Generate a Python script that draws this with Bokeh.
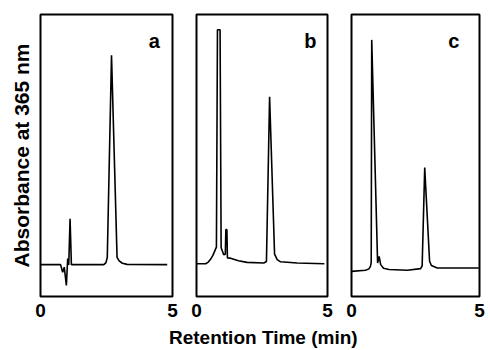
from bokeh.plotting import figure
from bokeh.models import Range1d, FixedTicker, Label
from bokeh.layouts import row, column
from bokeh.core.properties import value
from bokeh.embed import file_html
from bokeh.resources import INLINE

# ---- data (time in min, absorbance in arbitrary units 0-100) ----
a_time = [0.00, 0.76, 0.84, 0.90, 0.98, 1.03, 1.07, 1.12, 1.17, 2.40, 2.48, 2.53, 2.69, 2.90, 2.98, 3.10, 3.28, 4.80]
a_abs = [11.3, 11.3, 8.6, 10.4, 3.9, 13.5, 11.2, 27.6, 11.3, 11.3, 12.0, 13.9, 85.5, 13.9, 12.6, 11.8, 11.4, 11.3]

b_time = [0.00, 0.35, 0.45, 0.53, 0.62, 0.69, 0.76, 0.80, 0.90, 0.94, 1.04, 1.10, 1.12, 1.16, 1.18,
          1.30, 1.60, 1.93, 2.57, 2.67, 2.79, 2.98, 3.08, 3.21, 3.84, 4.88]
b_abs = [11.6, 11.6, 12.2, 13.1, 14.5, 16.0, 17.5, 94.6, 94.6, 17.3, 14.8, 15.0, 23.7, 23.7, 13.7,
         13.6, 12.7, 12.1, 11.9, 12.4, 70.8, 15.0, 13.1, 12.3, 11.9, 11.6]

c_time = [0.00, 0.55, 0.68, 0.74, 0.77, 0.79, 1.02, 1.08, 1.14, 1.25, 1.47, 2.18, 2.70, 2.76, 2.86,
          3.05, 3.12, 3.35, 4.97]
c_abs = [8.9, 9.3, 9.8, 10.7, 12.0, 91.0, 11.9, 14.2, 11.3, 10.0, 9.6, 9.3, 9.9, 10.9, 45.7,
         12.5, 11.0, 10.1, 10.1]

panel_letters = ["a", "b", "c"]
x_ticks = [0, 5]
y_title = "Absorbance at 365 nm"
x_title = "Retention Time (min)"

FONT = "Liberation Sans"
FRAME_H = 282
TOP = 14
BOTTOM = 30


def make_panel(t, v, letter, frame_w, left, right, letter_x):
    p = figure(frame_width=frame_w, frame_height=FRAME_H,
               x_range=Range1d(0, 5), y_range=Range1d(0, 100),
               output_backend="svg", toolbar_location=None,
               min_border_left=left, min_border_right=right,
               min_border_top=TOP, min_border_bottom=BOTTOM)
    p.grid.visible = False
    p.outline_line_color = "black"
    p.outline_line_width = 2
    p.background_fill_color = "white"
    p.border_fill_color = "white"

    p.xaxis.ticker = FixedTicker(ticks=x_ticks)
    p.xaxis.axis_line_color = None
    p.xaxis.major_tick_line_color = None
    p.xaxis.minor_tick_line_color = None
    p.xaxis.major_tick_out = 0
    p.xaxis.major_tick_in = 0
    p.xaxis.major_label_standoff = 7
    p.xaxis.major_label_text_font = FONT
    p.xaxis.major_label_text_font_style = "bold"
    p.xaxis.major_label_text_font_size = "19px"
    p.xaxis.major_label_text_color = "black"

    p.line(t, v, line_color="black", line_width=1.6)

    p.add_layout(Label(x=letter_x, y=90.7, text=letter, text_align="center",
                       text_baseline="alphabetic", text_font=FONT,
                       text_font_style="bold", text_font_size="20px",
                       text_color="black"))
    return p


pa = make_panel(a_time, a_abs, panel_letters[0], 132, 40, 12, 4.31)
pb = make_panel(b_time, b_abs, panel_letters[1], 131, 12, 12, 4.35)
pc = make_panel(c_time, c_abs, panel_letters[2], 128, 12, 8, 4.0)

# y axis: only a title on the first panel
pa.yaxis.ticker = FixedTicker(ticks=[])
pa.yaxis.axis_line_color = None
pa.yaxis.major_tick_line_color = None
pa.yaxis.minor_tick_line_color = None
pa.yaxis.major_label_text_font_size = "0px"
pa.yaxis.axis_label = y_title
pa.yaxis.axis_label_standoff = 8
pa.yaxis.axis_label_text_font = FONT
pa.yaxis.axis_label_text_font_style = "bold"
pa.yaxis.axis_label_text_font_size = "21px"
pa.yaxis.axis_label_text_color = "black"
for p in (pb, pc):
    p.yaxis.visible = False

# shared x title in a thin strip below the three panels (coordinates = pixels of the strip)
total_w = 40 + 132 + 12 + 12 + 131 + 12 + 12 + 128 + 8
strip_h = 22
pt = figure(frame_width=total_w, frame_height=strip_h,
            x_range=Range1d(0, total_w), y_range=Range1d(0, strip_h),
            output_backend="svg", toolbar_location=None,
            min_border_left=0, min_border_right=0, min_border_top=0, min_border_bottom=0)
pt.axis.visible = False
pt.grid.visible = False
pt.outline_line_color = None
pt.text(x=[262.8], y=[11], text=[x_title], text_align="center", text_baseline="middle",
        text_font=value(FONT), text_font_style="bold", text_font_size="19px", text_color="black")

layout = column(row(pa, pb, pc), pt)
open("out.html", "w").write(file_html(layout, INLINE))
